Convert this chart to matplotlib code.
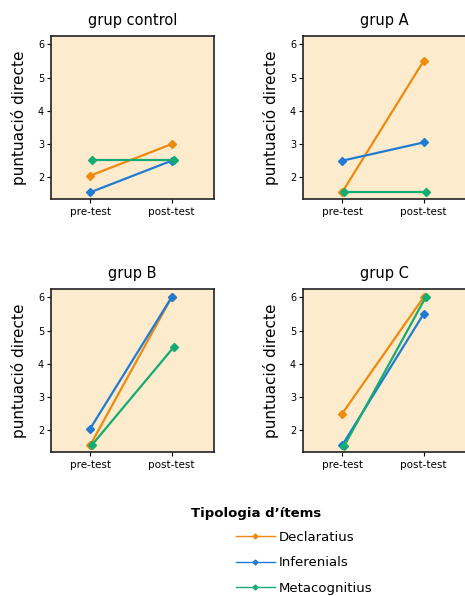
import matplotlib
matplotlib.use("Agg")
import matplotlib.pyplot as plt
from matplotlib.lines import Line2D

# ---- dades ----
moments = ["pre-test", "post-test"]
grups = ["grup control", "grup A", "grup B", "grup C"]
tipus = ["Declaratius", "Inferenials", "Metacognitius"]
declaratius = {"grup control": [2.05, 3.0], "grup A": [1.55, 5.5],
               "grup B": [1.55, 6.0], "grup C": [2.5, 6.0]}
inferenials = {"grup control": [1.55, 2.5], "grup A": [2.5, 3.05],
               "grup B": [2.05, 6.0], "grup C": [1.55, 5.5]}
metacognitius = {"grup control": [2.52, 2.52], "grup A": [1.57, 1.57],
                 "grup B": [1.57, 4.5], "grup C": [1.53, 6.0]}
series = [declaratius, inferenials, metacognitius]

COL = ["#ee8a0e", "#1f7bd4", "#13ac72"]
DODGE = [0.0, 0.0, 0.025]
BG = "#fdebcd"

fig = plt.figure(figsize=(4.65, 5.96), dpi=100)
W, H = 0.3505, 0.2735
pos = [(0.1097, 0.6661), (0.6516, 0.6661), (0.1097, 0.2416), (0.6516, 0.2416)]

for g, (x0, y0) in zip(grups, pos):
    ax = fig.add_axes([x0, y0, W, H])
    ax.set_facecolor(BG)
    for s, c, d in zip(series, COL, DODGE):
        xs = [i + d for i in range(len(moments))]
        ax.plot(xs, s[g], color=c, lw=1.6, marker="D", ms=4.3, mec=c, zorder=3)
    ax.set_xlim(-0.48, 1.52)
    ax.set_ylim(1.35, 6.25)
    ax.set_xticks(range(len(moments)))
    ax.set_xticklabels(moments, fontsize=7.5)
    ax.set_yticks([2, 3, 4, 5, 6])
    ax.tick_params(axis="y", labelsize=7, length=3, width=0.8, pad=2)
    ax.tick_params(axis="x", length=3, width=0.8, pad=3)
    for sp in ax.spines.values():
        sp.set_linewidth(1.2)
        sp.set_color("#222222")
    ax.set_title(g, fontsize=10.5, pad=8)
    ax.set_ylabel("puntuació directe", fontsize=11, labelpad=8)

# llegenda
fig.text(0.4108, 1 - 514 / 596, "Tipologia d’ítems", fontsize=9.5,
         fontweight="bold", va="center", ha="left")
handles = [Line2D([0], [0], color=c, lw=1, marker="D", ms=2.5) for c in COL]
fig.legend(handles, tipus, loc="upper left", bbox_to_anchor=(0.5075, 1 - 531 / 596),
           frameon=False, fontsize=9.5, handlelength=2.95, labelspacing=0.93,
           handletextpad=0.3, borderpad=0, borderaxespad=0)

fig.savefig("out.png", dpi=100)
